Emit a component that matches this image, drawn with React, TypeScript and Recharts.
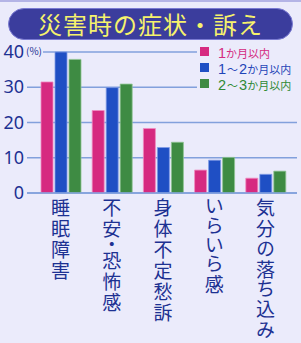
import React from 'react';
import { BarChart, Bar, XAxis, YAxis, CartesianGrid, Legend } from 'recharts';

// 災害時の症状・訴え (%)
const categories = ['睡眠障害', '不安・恐怖感', '身体不定愁訴', 'いらいら感', '気分の落ち込み'];
const within1 = [31.5, 23.4, 18.3, 6.5, 4.2];
const within1to2 = [40, 29.9, 12.9, 9.3, 5.3];
const within2to3 = [37.9, 30.9, 14.4, 10.1, 6.2];
const yTicks = [0, 10, 20, 30, 40];

const seriesNames = ['1か月以内', '1〜2か月以内', '2〜3か月以内'];
const seriesColors = ['#d62a80', '#1f4fc4', '#3e8b43'];
const legendTextColors = ['#d42a80', '#1f45b8', '#2f8a35'];

const data = categories.map((name, i) => ({
  name,
  a: within1[i],
  b: within1to2[i],
  c: within2to3[i],
}));

const BG = '#ebebfb';
const NAVY = '#1d3192';
const GRID = '#82a0dc';
const JP = '"Noto Sans CJK JP", "Noto Sans", sans-serif';

// 縦書きのカテゴリラベル
function VerticalTick(props: any) {
  const { x, y, payload } = props;
  return (
    <text
      x={x}
      y={y + 5}
      fontSize={19}
      fill={NAVY}
      fontFamily={JP}
      style={{ writingMode: 'vertical-rl', fontFeatureSettings: '"vpal" 1', letterSpacing: 2 }}
    >
      {payload.value}
    </text>
  );
}

function YTick(props: any) {
  const { x, y, payload } = props;
  return (
    <g>
      <text x={x} y={y + 6} textAnchor="end" fontSize={18} fill={NAVY} fontFamily='"Noto Sans", sans-serif'>
        {payload.value}
      </text>
      {payload.value === 40 && (
        <g>
          <rect x={x + 1} y={y - 6} width={18} height={12} fill={BG} />
          <text x={x + 2} y={y + 3} fontSize={10} fill={NAVY} fontFamily={JP}>
            (%)
          </text>
        </g>
      )}
    </g>
  );
}

const rowCenters = [8, 24, 40];

function LegendBox() {
  return (
    <div style={{ position: 'relative', background: BG, width: 104, height: 49 }}>
      {seriesNames.map((name, i) => {
        const m = name.match(/^([\d〜]+)(.*)$/);
        const num = m ? m[1] : '';
        const rest = m ? m[2] : name;
        const cy = rowCenters[i];
        return (
          <div key={i}>
            <span
              style={{
                position: 'absolute',
                left: 3,
                top: cy - 4,
                width: 8.5,
                height: 8.5,
                background: seriesColors[i],
              }}
            />
            <span
              style={{
                position: 'absolute',
                left: 21,
                top: cy - 8,
                height: 16,
                lineHeight: '16px',
                whiteSpace: 'nowrap',
                color: legendTextColors[i],
                fontFamily: JP,
              }}
            >
              {Array.from(num).map((c, k) => (
                <span
                  key={k}
                  style={{
                    fontSize: c === '〜' ? 11 : 14.5,
                    lineHeight: '16px',
                    margin: c === '〜' ? '0 1px' : 0,
                    fontFamily: c === '〜' ? JP : '"Liberation Sans", sans-serif',
                  }}
                >
                  {c}
                </span>
              ))}
              <span style={{ fontSize: 11, lineHeight: '16px' }}>{rest}</span>
            </span>
          </div>
        );
      })}
    </div>
  );
}

export default function App() {
  return (
    <div
      style={{
        position: 'absolute',
        left: 0,
        top: 0,
        width: 301,
        height: 343,
        background: BG,
        overflow: 'hidden',
      }}
    >
      <div style={{ position: 'absolute', left: 0, top: 0, width: 301, height: 2, background: '#b4b4e6' }} />
      {/* タイトル */}
      <div
        style={{
          position: 'absolute',
          left: 8,
          top: 8,
          width: 285,
          height: 32,
          boxSizing: 'border-box',
          borderRadius: 16,
          background: '#3b3d9d',
          border: '1.5px solid #7a7ad2',
          color: '#f6f26c',
          fontFamily: JP,
          fontSize: 24,
          lineHeight: '29px',
          textAlign: 'center',
          letterSpacing: 1,
        }}
      >
        災害時の症状・訴え
      </div>
      <div style={{ position: 'absolute', left: 0, top: 0 }}>
        <BarChart
          width={301}
          height={343}
          data={data}
          margin={{ top: 52, right: 4, bottom: 0, left: 0 }}
          barSize={12}
          barGap={2}
        >
          <CartesianGrid horizontal vertical={false} stroke={GRID} strokeWidth={1.5} />
          <XAxis
            dataKey="name"
            height={150}
            interval={0}
            padding={{ left: 8, right: 6 }}
            axisLine={{ stroke: GRID, strokeWidth: 1.5 }}
            tickLine={false}
            tickSize={0}
            tickMargin={0}
            tick={(p: any) => <VerticalTick {...p} />}
          />
          <YAxis
            width={27}
            domain={[0, 40]}
            ticks={yTicks}
            axisLine={false}
            tickLine={false}
            tickSize={0}
            tickMargin={3}
            tick={(p: any) => <YTick {...p} />}
          />
          <Legend
            layout="horizontal"
            align="center"
            verticalAlign="middle"
            wrapperStyle={{ left: 197, top: 43, width: 104, height: 49 }}
            content={() => <LegendBox />}
          />
          <Bar dataKey="a" name={seriesNames[0]} fill={seriesColors[0]} stroke="#f08cc0" strokeWidth={0.8} isAnimationActive={false} />
          <Bar dataKey="b" name={seriesNames[1]} fill={seriesColors[1]} stroke="#7f9be6" strokeWidth={0.8} isAnimationActive={false} />
          <Bar dataKey="c" name={seriesNames[2]} fill={seriesColors[2]} stroke="#8fc493" strokeWidth={0.8} isAnimationActive={false} />
        </BarChart>
      </div>
    </div>
  );
}
